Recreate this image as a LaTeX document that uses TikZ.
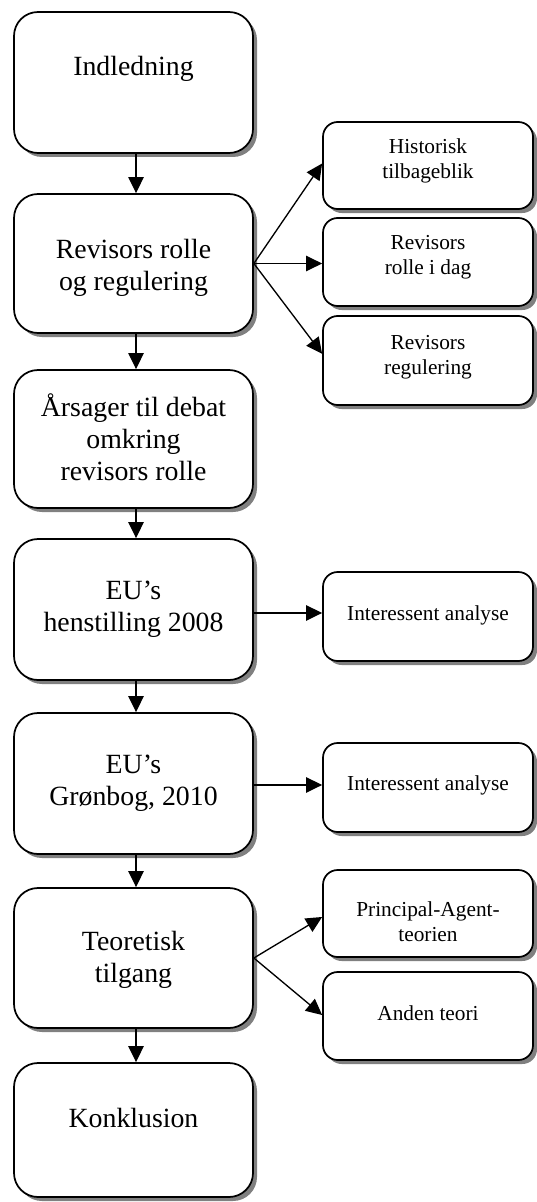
\documentclass[tikz,border=0pt]{standalone}
\usepackage{fontspec}
\setmainfont{Liberation Serif}
\usetikzlibrary{shadows,arrows.meta,calc}
\tikzset{
  boxbase/.style={draw=black, line width=1.3pt, fill=white, inner sep=0pt,
    drop shadow={shadow xshift=3pt, shadow yshift=-3pt, fill=black!50, opacity=1}},
  bigbox/.style={boxbase, rounded corners=18pt, minimum width=179.25pt, minimum height=#1},
  smallbox/.style={boxbase, rounded corners=11pt, minimum width=157.5pt, minimum height=#1},
  bigtxt/.style={align=center, inner sep=0pt, font=\fontsize{20.85}{24}\selectfont},
  smalltxt/.style={align=center, inner sep=0pt, font=\fontsize{16}{18.7}\selectfont},
  arr/.style={line width=1pt, -{Triangle[length=12pt,width=11.5pt]}}
}
\begin{document}
\begin{tikzpicture}[x=0.75pt,y=-0.75pt]
\useasboundingbox (0,0) rectangle (536,1202);
% left boxes
\node[bigbox=105.75pt] (b1) at (133.5,82.5) {};
\node[bigbox=104.25pt] (b2) at (133.5,263.5) {};
\node[bigbox=103.5pt]  (b3) at (133.5,439) {};
\node[bigbox=105.75pt] (b4) at (133.5,609.5) {};
\node[bigbox=105.75pt] (b5) at (133.5,783.5) {};
\node[bigbox=105pt]    (b6) at (133.5,958) {};
\node[bigbox=100.5pt]  (b7) at (133.5,1130) {};
% right boxes
\node[smallbox=65.25pt] (r1) at (428,165.5) {};
\node[smallbox=66pt]    (r2) at (428,262) {};
\node[smallbox=66.75pt] (r3) at (428,360.5) {};
\node[smallbox=66.75pt] (i1) at (428,616.5) {};
\node[smallbox=66.75pt] (i2) at (428,787.5) {};
\node[smallbox=65.25pt] (p1) at (428,913.5) {};
\node[smallbox=66pt]    (a1) at (428,1016) {};
% texts
\node[bigtxt] (t1) at (133.5,69) {Indledning};
\node[bigtxt] (t2) at (133.5,268) {Revisors rolle\\og regulering};
\node[bigtxt] (t3) at (133.5,437) {Årsager til debat\\omkring\\revisors rolle};
\node[bigtxt] (t4) at (133.5,609) {EU’s\\henstilling 2008};
\node[bigtxt] (t5) at (133.5,783) {EU’s\\Grønbog, 2010};
\node[bigtxt] (t6) at (133.5,960) {Teoretisk\\tilgang};
\node[bigtxt] (t7) at (133.5,1118) {Konklusion};
\node[smalltxt] (s1) at (428,161) {Historisk\\tilbageblik};
\node[smalltxt] (s2) at (428,257) {Revisors\\rolle i dag};
\node[smalltxt] (s3) at (428,357) {Revisors\\regulering};
\node[smalltxt] (s4) at (428,615) {Interessent analyse};
\node[smalltxt] (s5) at (428,785) {Interessent analyse};
\node[smalltxt] (s6) at (428,922) {Principal-Agent-\\teorien};
\node[smalltxt] (s7) at (428,1013) {Anden teori};
% vertical arrows
\draw[arr] ([xshift=1.9pt]b1.south) -- ([xshift=1.9pt]b2.north);
\draw[arr] ([xshift=1.9pt]b2.south) -- ([xshift=1.9pt]b3.north);
\draw[arr] ([xshift=1.9pt]b3.south) -- ([xshift=1.9pt]b4.north);
\draw[arr] ([xshift=1.9pt]b4.south) -- ([xshift=1.9pt]b5.north);
\draw[arr] ([xshift=1.9pt]b5.south) -- ([xshift=1.9pt]b6.north);
\draw[arr] ([xshift=1.9pt]b6.south) -- ([xshift=1.9pt]b7.north);
% side arrows
\draw[arr] (b2.east) -- ([yshift=1.5pt]r1.west);
\draw[arr] (b2.east) -- (b2.east -| r2.west);
\draw[arr] (b2.east) -- ([yshift=5pt]r3.west);
\draw[arr] ([yshift=-2.6pt]b4.east) -- ([yshift=-2.6pt]b4.east -| i1.west);
\draw[arr] ([yshift=-1.1pt]b5.east) -- ([yshift=-1.1pt]b5.east -| i2.west);
\draw[arr] (b6.east) -- ([yshift=-2.6pt]p1.west);
\draw[arr] (b6.east) -- ([yshift=0.75pt]a1.west);
\end{tikzpicture}
\end{document}
